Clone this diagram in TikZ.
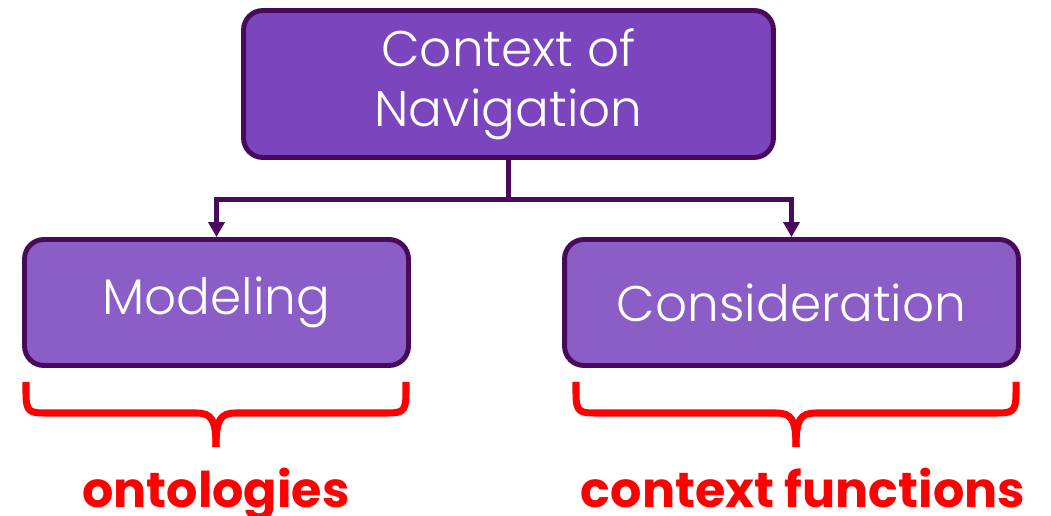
\documentclass[tikz,border=0pt]{standalone}
\usepackage{fontspec}
\setmainfont{Poppins}[UprightFont=* Light, BoldFont=* Bold]
\usepackage{tikz}
\usetikzlibrary{arrows.meta, positioning}

\definecolor{plumline}{HTML}{4A0A5C}
\definecolor{topfill}{HTML}{7A45BD}
\definecolor{subfill}{HTML}{8A5EC6}
\definecolor{markred}{HTML}{FF0000}

\begin{document}
\begin{tikzpicture}[
  x=0.02cm, y=-0.02cm,
  topic/.style={rectangle, draw=plumline, fill=topfill, line width=2.8pt, rounded corners=11pt, text=white, align=center, font=\fontsize{28.5}{34}\selectfont, minimum width=10.6cm, minimum height=2.94cm},
  part/.style={rectangle, draw=plumline, fill=subfill, line width=2.8pt, rounded corners=11pt, text=white, align=center, font=\fontsize{28.5}{34}\selectfont, minimum height=2.52cm},
  tag/.style={text=markred, font=\bfseries\fontsize{28}{32}\selectfont, anchor=base},
  brace/.style={draw=markred, line width=4pt},
  arrow/.style={-{Triangle[length=0.3cm, width=0.32cm]}, draw=plumline, line width=2.8pt}
]
\useasboundingbox (0,0) rectangle (1051,516);

\node[topic] (ctx) at (508.5,84) {Context of\\Navigation};
\node[part, minimum width=7.68cm] (model) at (216.5,302.5) {Modeling};
\node[part, minimum width=9.08cm] (consid) at (791.5,302.5) {Consideration};

\draw[draw=plumline, line width=2.8pt] (ctx.south) -- ++(0,40) coordinate (split);
\draw[arrow] (split) -| (model.north);
\draw[arrow] (split) -| (consid.north);

% braces under the two boxes
\foreach \l/\m/\r in {26/216/406, 576/796/1016}{
  \draw[brace] (\l,382) -- (\l,393) .. controls (\l,413) and ({\l+4},413) .. ({\l+22},413)
    -- ({\m-20},413) .. controls ({\m-4},413) and (\m,420) .. (\m,447);
  \draw[brace] (\r,382) -- (\r,393) .. controls (\r,413) and ({\r-4},413) .. ({\r-22},413)
    -- ({\m+20},413) .. controls ({\m+4},413) and (\m,420) .. (\m,447);
}

\node[tag] (onto) at (216,507) {ontologies};
\node[tag] (funcs) at (803,507) {context functions};

\end{tikzpicture}
\end{document}
